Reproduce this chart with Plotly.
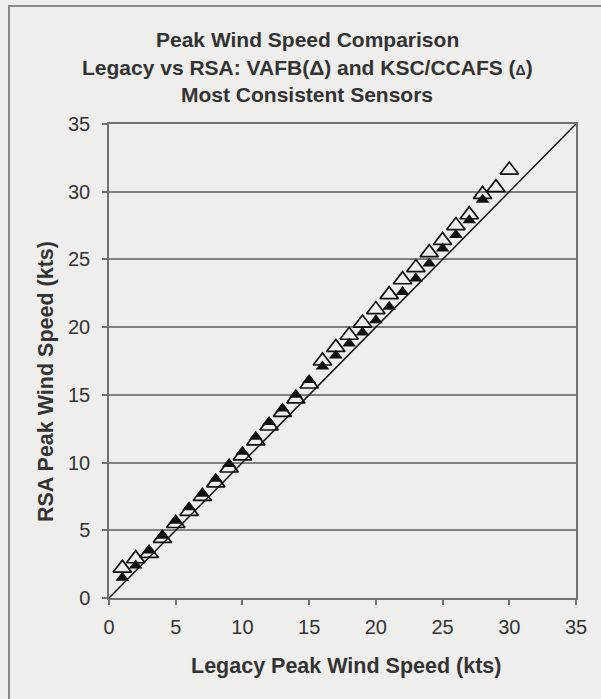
import plotly.graph_objects as go

# Legacy peak wind speed (kts) - x values
vafb_x = list(range(1, 31))
vafb_y = [2.2, 2.9, 3.3, 4.4, 5.5, 6.4, 7.5, 8.5, 9.6, 10.5, 11.6, 12.7, 13.7, 14.7, 15.8,
          17.5, 18.5, 19.4, 20.3, 21.3, 22.4, 23.5, 24.4, 25.5, 26.4, 27.5, 28.3, 29.8, 30.3, 31.6]
ksc_x = list(range(1, 29))
ksc_y = [1.5, 2.4, 3.5, 4.6, 5.7, 6.7, 7.7, 8.8, 9.9, 10.8, 11.9, 13.0, 14.0, 15.0, 16.1,
         17.1, 17.9, 18.8, 19.6, 20.5, 21.5, 22.6, 23.6, 24.7, 25.8, 26.8, 27.9, 29.4]
ref_line = [0, 35]
tick_vals = [0, 5, 10, 15, 20, 25, 30, 35]

title_lines = ["Peak Wind Speed Comparison",
               "Legacy vs RSA: VAFB(\u0394) and KSC/CCAFS (<span style='font-size:14px'>\u0394</span>)",
               "Most Consistent Sensors"]
x_title = "Legacy Peak Wind Speed (kts)"
y_title = "RSA Peak Wind Speed (kts)"

W, H = 601, 699
L, R, T, B = 109, 576, 124, 598

def px(x):
    return (x - L) / (R - L)

def py(y):
    return (B - y) / (B - T)

fig = go.Figure()
fig.add_trace(go.Scatter(x=ref_line, y=ref_line, mode="lines",
                         line=dict(color="#111111", width=1.5), hoverinfo="skip"))
fig.add_trace(go.Scatter(x=vafb_x, y=vafb_y, mode="markers", name="VAFB",
                         marker=dict(symbol="triangle-up-open", size=16, color="#111111",
                                     line=dict(width=1.7, color="#111111"))))
fig.add_trace(go.Scatter(x=ksc_x, y=ksc_y, mode="markers", name="KSC/CCAFS",
                         marker=dict(symbol="triangle-up", size=12, color="#111111",
                                     line=dict(width=0))))

font_main = "Liberation Sans, Arial, sans-serif"
axis_common = dict(range=[0, 35], tickvals=tick_vals, ticks="outside", ticklen=5,
                   tickcolor="#707070", tickwidth=1.5, showline=True, linecolor="#707070",
                   linewidth=1.5, mirror=True, zeroline=False,
                   tickfont=dict(family=font_main, size=20, color="#333333"))
fig.update_xaxes(**axis_common, showgrid=False, ticklabelstandoff=5)
fig.update_yaxes(**axis_common, showgrid=True, gridcolor="#808080", gridwidth=1.5,
                 ticklabelstandoff=8)

annotations = []
for text, yc in zip(title_lines, [40, 67, 94]):
    annotations.append(dict(text="<b>" + text + "</b>", x=px(307), y=py(yc), xref="paper", yref="paper",
                            xanchor="center", yanchor="middle", showarrow=False,
                            font=dict(family=font_main, size=21, color="#333333")))
annotations.append(dict(text="<b>" + x_title + "</b>", x=px(346), y=py(666), xref="paper", yref="paper",
                        xanchor="center", yanchor="middle", showarrow=False,
                        font=dict(family=font_main, size=21.5, color="#333333")))
annotations.append(dict(text="<b>" + y_title + "</b>", x=px(46), y=py(382), xref="paper", yref="paper",
                        xanchor="center", yanchor="middle", showarrow=False, textangle=-90,
                        font=dict(family=font_main, size=21.5, color="#333333")))

fig.update_layout(
    width=W, height=H,
    margin=dict(l=L, r=W - R, t=T, b=H - B, pad=0),
    paper_bgcolor="#eeeeec", plot_bgcolor="#eeeeec",
    showlegend=False,
    annotations=annotations,
    shapes=[dict(type="rect", xref="paper", yref="paper",
                 x0=px(9), x1=px(640), y0=py(740), y1=py(6),
                 line=dict(color="#8a8a8a", width=2), layer="below")],
)

fig.write_html("out.html", config={"displayModeBar": False},
               post_script="document.body.style.margin='0';document.body.style.background='#eeeeec';"
                           "document.body.style.overflow='hidden';")
